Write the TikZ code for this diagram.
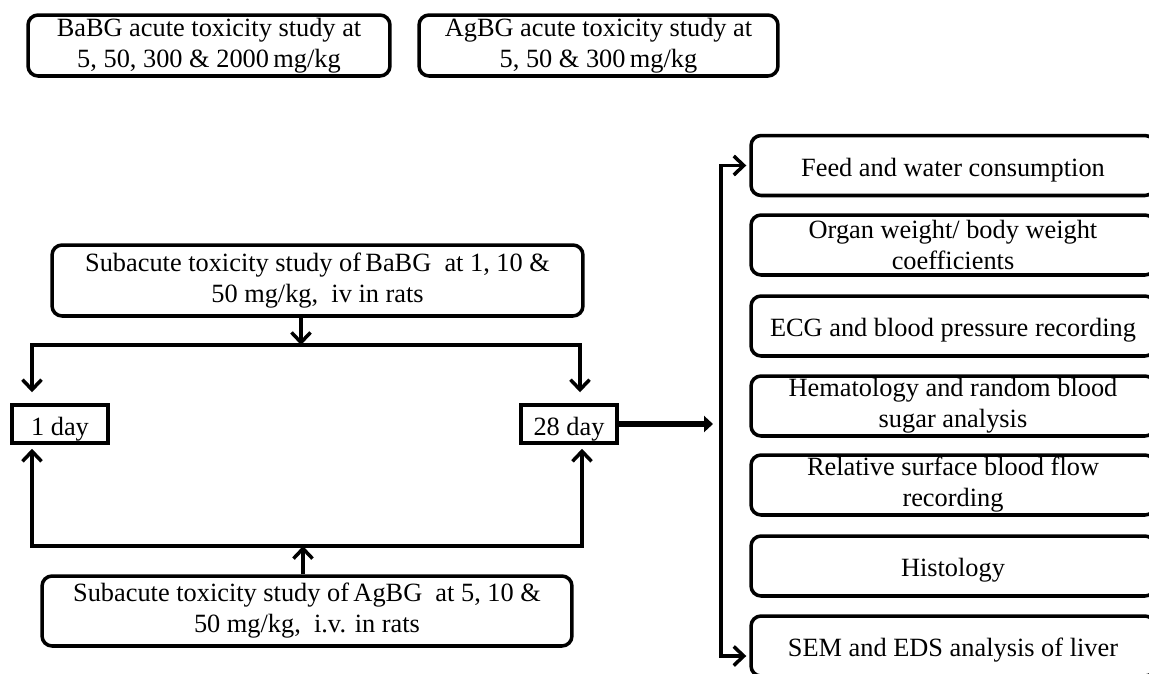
\documentclass[tikz,border=0pt]{standalone}
\usepackage{fontspec}
\setmainfont{Liberation Serif}
\usepackage{xcolor}
\usepackage{tikz}
\usetikzlibrary{arrows.meta, positioning, calc}

\tikzset{
	box/.style={draw, line width=2pt, rounded corners=0.2cm, align=center, inner sep=0pt, execute at begin node={\rule{0pt}{15.5pt}}},
	daybox/.style={draw, line width=2pt, align=center, inner sep=0pt, minimum width=1.92cm, minimum height=0.76cm, execute at begin node={\rule{0pt}{16pt}}},
	testbox/.style={box, minimum width=8.08cm, minimum height=1.2cm},
	conn/.style={line width=2pt},
	arr/.style={conn, -{Straight Barb[length=0.2cm, width=0.38cm]}},
	arrboth/.style={conn, {Straight Barb[length=0.2cm, width=0.38cm]}-{Straight Barb[length=0.2cm, width=0.38cm]}},
	bigarr/.style={line width=3.6pt, -{Triangle[length=0.18cm, width=0.32cm]}}
}

\begin{document}
\begin{tikzpicture}[x=0.02cm, y=-0.02cm, font=\fontsize{15}{17.6}\selectfont]
			% page frame (pixels)
			\clip (0,0) rectangle (1149,673);
			
			% acute studies
			\node[box, minimum width=7.24cm, minimum height=1.22cm] (acuteBa) at (209,45.5) {BaBG acute toxicity study at\\5, 50, 300 \& 2000\,mg/kg};
			\node[box, minimum width=7.18cm, minimum height=1.22cm] (acuteAg) at (598.5,45.5) {AgBG acute toxicity study at\\5, 50 \& 300\,mg/kg};
			
			% subacute studies
			\node[box, minimum width=10.62cm, minimum height=1.42cm] (subBa) at (317.5,280.5) {Subacute toxicity study of\,BaBG~~at 1, 10 \&\\50 mg/kg,~ iv in rats};
			\node[box, minimum width=10.6cm, minimum height=1.4cm] (subAg) at (307,611) {Subacute toxicity study of\,AgBG~~at 5, 10 \&\\50 mg/kg,~ i.v. in rats};
			
			% time points
			\node[daybox] (day1) at (60,424) {1 day};
			\node[daybox] (day28) at (569,424) {28 day};
			
			% parameters
			\node[testbox] (feed) at (953,165.5) {Feed and water consumption};
			\node[testbox] (organ) at (953,245) {Organ weight/ body weight\\coefficients};
			\node[testbox] (ecg) at (953,326) {ECG and blood pressure recording};
			\node[testbox] (hema) at (953,406) {Hematology and random blood\\sugar analysis};
			\node[testbox] (flow) at (953,485) {Relative surface blood flow\\recording};
			\node[testbox] (histo) at (953,566) {Histology};
			\node[testbox] (sem) at (953,646) {SEM and EDS analysis of liver};
			
			% bus lines
			\coordinate (topL) at (32,345);
			\coordinate (topR) at (580,345);
			\coordinate (botL) at (32,546);
			\coordinate (botR) at (582,546);
			\coordinate (busTop) at (721,166);
			\coordinate (busBot) at (721,656);
			
			% BaBG subacute down to both days
			\draw[arr] ([xshift=-0.33cm]subBa.south) -- ([xshift=-0.33cm]subBa.south |- topL);
			\draw[arrboth, shorten <=0.22cm, shorten >=0.22cm] (day1.north -| topL) -- (topL) -- (topR) -- (day28.north -| topR);
			
			% AgBG subacute up to both days
			\draw[arr] ([xshift=-0.08cm]subAg.north) -- ([xshift=-0.08cm]subAg.north |- botL);
			\draw[arrboth, shorten <=0.08cm, shorten >=0.08cm] (day1.south -| botL) -- (botL) -- (botR) -- (day28.south -| botR);
			
			% day 28 to parameters
			\draw[bigarr, shorten >=0.16cm] (day28.east) -- (day28.east -| busTop);
			\draw[arrboth, shorten <=0.06cm, shorten >=0.06cm] (feed.west) -| (busBot) -- (busBot -| sem.west);
		\end{tikzpicture}
\end{document}
